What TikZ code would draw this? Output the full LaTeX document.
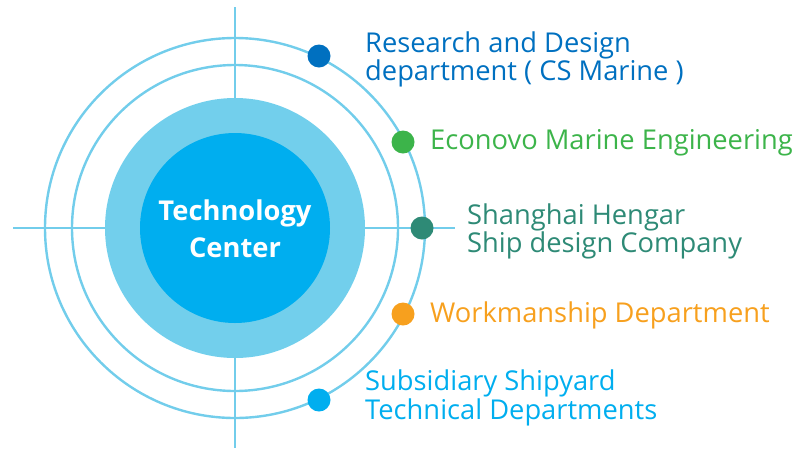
\documentclass[tikz,border=0pt]{standalone}
\usepackage{fontspec}
\setmainfont{Open Sans}
\definecolor{ringline}{HTML}{72CDEB}
\definecolor{ringfill}{HTML}{72CFEC}
\definecolor{corefill}{HTML}{00AEEF}
\definecolor{cRD}{HTML}{0070C0}
\definecolor{cEC}{HTML}{3CB44A}
\definecolor{cSH}{HTML}{2E8A76}
\definecolor{cWM}{HTML}{F7A01E}
\definecolor{cSS}{HTML}{00AEEF}
\tikzset{
  guide/.style={draw=ringline, line width=2.4pt},
  dot/.style={circle, fill=#1, minimum size=23pt, inner sep=0pt},
  lbl/.style={anchor=base west, inner sep=0pt, text=#1, font=\fontsize{27.3}{30}\selectfont},
  ctext/.style={anchor=base, inner sep=0pt, text=white, font=\fontsize{27.3}{30}\selectfont\bfseries}
}
\begin{document}
\begin{tikzpicture}[x=1pt,y=-1pt]
\useasboundingbox (0,0) rectangle (800,448);
\coordinate (C) at (235,228);
\coordinate (vt) at (235,7);
\coordinate (vb) at (235,448);
\coordinate (hl) at (13,228);
\coordinate (hr) at (455,228);
\draw[guide] (vt) -- (vb);
\draw[guide] (hl) -- (hr);
\draw[guide] (C) circle[radius=190pt];
\draw[guide] (C) circle[radius=163pt];
\fill[ringfill] (C) circle[radius=130pt];
\fill[corefill] (C) circle[radius=95pt];
\node[ctext] (tc1) at (235,220) {Technology};
\node[ctext] (tc2) at (235,257) {Center};
\node[dot=cRD] (d1) at (319,56) {};
\node[dot=cEC] (d2) at (403,142) {};
\node[dot=cSH] (d3) at (422,228) {};
\node[dot=cWM] (d4) at (403,314) {};
\node[dot=cSS] (d5) at (319,400) {};
\node[lbl=cRD] (l1a) at (365,52) {Research and Design};
\node[lbl=cRD] (l1b) at (365,80) {department ( CS Marine )};
\node[lbl=cEC] (l2) at (430,149) {Econovo Marine Engineering};
\node[lbl=cSH] (l3a) at (467,224) {Shanghai Hengar};
\node[lbl=cSH] (l3b) at (467,252) {Ship design Company};
\node[lbl=cWM] (l4) at (430,322) {Workmanship Department};
\node[lbl=cSS] (l5a) at (365,390) {Subsidiary Shipyard};
\node[lbl=cSS] (l5b) at (365,419) {Technical Departments};
\end{tikzpicture}
\end{document}
